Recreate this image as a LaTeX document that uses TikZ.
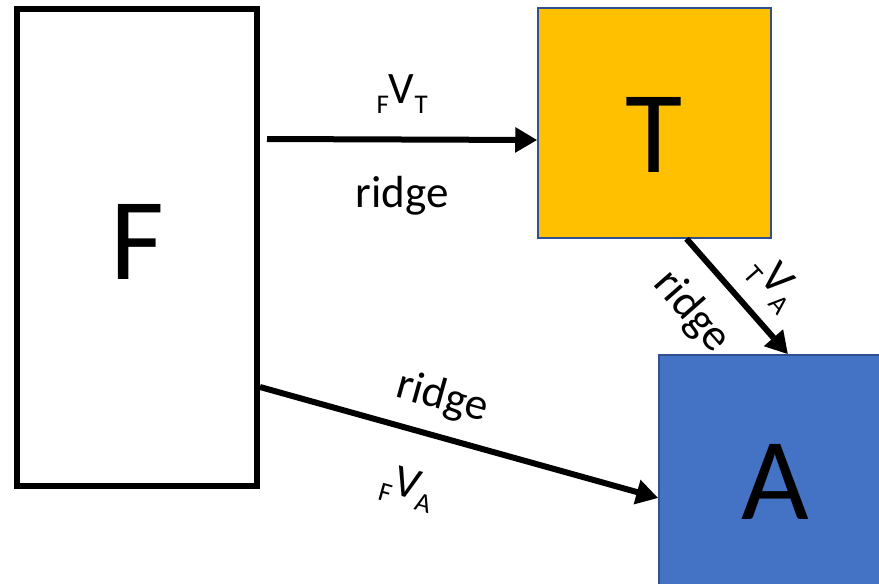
\documentclass[tikz,border=0pt]{standalone}
\usepackage{fontspec}
\setmainfont{Carlito}
\usetikzlibrary{arrows.meta}
\definecolor{torange}{HTML}{FFC000}
\definecolor{ablue}{HTML}{4472C4}
\definecolor{edgeblue}{HTML}{2F528F}
\newcommand{\vsub}[2]{\raisebox{-10pt}{\fontsize{27}{27}\selectfont #1}V\raisebox{-10pt}{\fontsize{27}{27}\selectfont #2}}
\begin{document}
\begin{tikzpicture}[
        x=1pt,y=-1pt,
        bigletter/.style={inner sep=0pt, font=\fontsize{117}{117}\selectfont},
        fbox/.style={bigletter, draw=black, line width=6pt, fill=white},
        colbox/.style={bigletter, draw=edgeblue, line width=1.5pt,
            minimum width=233pt, minimum height=230pt,
            text height=98pt, text depth=0pt},
        arr/.style={line width=6pt, -{Triangle[length=22pt,width=24pt]}},
        lbl/.style={inner sep=0pt, font=\fontsize{45}{45}\selectfont},
    ]
  \useasboundingbox (0,0) rectangle (879,584);
  \node[fbox, minimum width=240pt, minimum height=477pt,
    text height=74pt, text depth=11pt] (F) at (137,247.5) {F};
  \node[colbox, fill=torange] (T) at (654.5,123) {T};
  \node[colbox, fill=ablue] (A) at (775.5,470) {A};
  % flows between the boxes
  \draw[arr] ([shift={(7,-108.5)}]F.east) -- ([yshift=-17pt]T.west)
    node[lbl, midway, above=23pt] {\vsub{F}{T}}
    node[lbl, midway, below=34pt] {ridge};
  \draw[arr] ([xshift=32pt]T.south) -- ([xshift=12.5pt]A.north)
    node[lbl, pos=0.38, sloped, below=22pt] {ridge}
    node[lbl, pos=0.594, sloped, above=15pt] {\vsub{T}{A}};
  \draw[arr] ([yshift=-139.5pt]F.east) -- ([yshift=-28pt]A.west)
    node[lbl, pos=0.4325, sloped, above=16pt] {ridge}
    node[lbl, pos=0.41, sloped, below=35pt] {\vsub{F}{A}};
\end{tikzpicture}
\end{document}
